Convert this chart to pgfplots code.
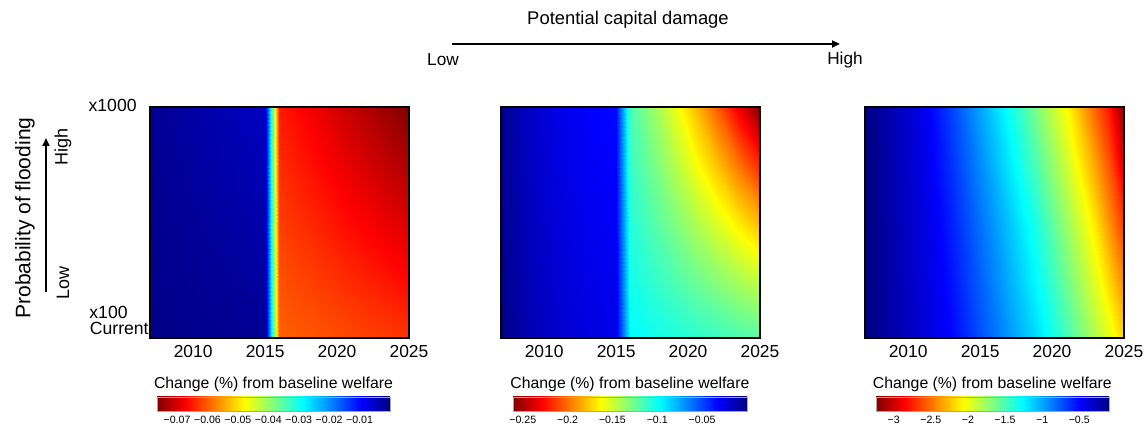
\documentclass[border=0pt]{standalone}
\usepackage{fontspec}
\setmainfont{Liberation Sans}
\usepackage{pgfplots}
\pgfplotsset{compat=1.18}
\usepackage{pgfplotstable}
\usetikzlibrary{arrows.meta}

% reversed jet: most negative change in dark red, no change in navy
\pgfplotsset{
  colormap={revjet}{rgb255(0cm)=(128,0,0) rgb255(1cm)=(255,0,0) rgb255(3cm)=(255,255,0)
                    rgb255(5cm)=(0,255,255) rgb255(7cm)=(0,0,255) rgb255(8cm)=(0,0,128)},
  heat/.style={
    scale only axis, width=129.5pt, height=115.5pt,
    xmin=2007, xmax=2025, ymin=0, ymax=10,
    xtick={2010,2015,2020,2025}, ytick=\empty,
    major tick length=0pt,
    axis line style={line width=0.6pt},
    tick label style={font=\fontsize{8.7}{10}\selectfont},
    /pgf/number format/1000 sep={},
    /pgf/number format/assume math mode=true,
    colormap name=revjet,
    axis on top,
    colorbar horizontal,
    colorbar style={
      scale only axis, width=116.5pt, height=7pt, anchor=north west,
      major tick length=0pt,
      xticklabel style={font=\fontsize{5.3}{6}\selectfont, yshift=0.8pt},
      title={Change (\%) from baseline welfare},
      title style={font=\fontsize{7.9}{9}\selectfont, yshift=-7pt},
      axis line style={draw=black!35, line width=0.3pt},
    },
  },
}

% welfare change (%) by year (x) and flood probability level (y, 0 = current/x100, 10 = x1000)
\pgfplotstableread{
x y v
2007 0 -0.0005
2009 0 -0.00075
2011 0 -0.001
2013 0 -0.00125
2015 0 -0.0015
2016 0 -0.0598
2017.5 0 -0.0604
2019 0 -0.0609
2020.5 0 -0.0615
2022 0 -0.0621
2023.5 0 -0.0626
2025 0 -0.0632
2007 2.5 -0.00075
2009 2.5 -0.00116
2011 2.5 -0.00156
2013 2.5 -0.00197
2015 2.5 -0.00238
2016 2.5 -0.0611
2017.5 2.5 -0.0620
2019 2.5 -0.0629
2020.5 2.5 -0.0638
2022 2.5 -0.0647
2023.5 2.5 -0.0656
2025 2.5 -0.0666
2007 5 -0.001
2009 5 -0.00156
2011 5 -0.00213
2013 5 -0.00269
2015 5 -0.00325
2016 5 -0.0625
2017.5 5 -0.0637
2019 5 -0.0649
2020.5 5 -0.0662
2022 5 -0.0674
2023.5 5 -0.0687
2025 5 -0.0699
2007 7.5 -0.00125
2009 7.5 -0.00197
2011 7.5 -0.00269
2013 7.5 -0.00341
2015 7.5 -0.00413
2016 7.5 -0.0638
2017.5 7.5 -0.0654
2019 7.5 -0.0669
2020.5 7.5 -0.0685
2022 7.5 -0.0701
2023.5 7.5 -0.0717
2025 7.5 -0.0733
2007 10 -0.0015
2009 10 -0.00238
2011 10 -0.00325
2013 10 -0.00413
2015 10 -0.005
2016 10 -0.0651
2017.5 10 -0.0670
2019 10 -0.0689
2020.5 10 -0.0709
2022 10 -0.0728
2023.5 10 -0.0747
2025 10 -0.0766
}\lowdamage

\pgfplotstableread{
x y v
2007 0 -0.002
2009 0 -0.0133
2011 0 -0.020
2013 0 -0.0245
2015 0 -0.027
2016 0 -0.098
2017.5 0 -0.1018
2019 0 -0.1057
2020.5 0 -0.1095
2022 0 -0.1133
2023.5 0 -0.1172
2025 0 -0.121
2007 2.5 -0.0028
2009 2.5 -0.0146
2011 2.5 -0.0217
2013 2.5 -0.0264
2015 2.5 -0.029
2016 2.5 -0.1028
2017.5 2.5 -0.1102
2019 2.5 -0.1177
2020.5 2.5 -0.1254
2022 2.5 -0.1331
2023.5 2.5 -0.1411
2025 2.5 -0.1491
2007 5 -0.0035
2009 5 -0.0159
2011 5 -0.0233
2013 5 -0.0283
2015 5 -0.031
2016 5 -0.1075
2017.5 5 -0.1186
2019 5 -0.1302
2020.5 5 -0.1424
2022 5 -0.1550
2023.5 5 -0.1681
2025 5 -0.1818
2007 7.5 -0.0043
2009 7.5 -0.0172
2011 7.5 -0.0250
2013 7.5 -0.0301
2015 7.5 -0.033
2016 7.5 -0.1123
2017.5 7.5 -0.1272
2019 7.5 -0.1433
2020.5 7.5 -0.1605
2022 7.5 -0.1789
2023.5 7.5 -0.1984
2025 7.5 -0.2191
2007 10 -0.005
2009 10 -0.0185
2011 10 -0.0266
2013 10 -0.032
2015 10 -0.035
2016 10 -0.117
2017.5 10 -0.1359
2019 10 -0.1568
2020.5 10 -0.1798
2022 10 -0.2048
2023.5 10 -0.2319
2025 10 -0.261
}\middamage

\pgfplotstableread{
x y v
2007 0 -0.10
2009 0 -0.23
2011 0 -0.36
2013 0 -0.50
2015 0 -0.73
2017 0 -0.96
2019 0 -1.19
2021 0 -1.48
2023 0 -1.82
2024 0 -1.99
2025 0 -2.20
2007 2.5 -0.10
2009 2.5 -0.24
2011 2.5 -0.375
2013 2.5 -0.54
2015 2.5 -0.785
2017 2.5 -1.03
2019 2.5 -1.29
2021 2.5 -1.615
2023 2.5 -1.98
2024 2.5 -2.205
2025 2.5 -2.445
2007 5 -0.10
2009 5 -0.25
2011 5 -0.39
2013 5 -0.58
2015 5 -0.84
2017 5 -1.10
2019 5 -1.39
2021 5 -1.75
2023 5 -2.14
2024 5 -2.42
2025 5 -2.69
2007 7.5 -0.10
2009 7.5 -0.26
2011 7.5 -0.41
2013 7.5 -0.635
2015 7.5 -0.92
2017 7.5 -1.21
2019 7.5 -1.54
2021 7.5 -1.905
2023 7.5 -2.345
2024 7.5 -2.61
2025 7.5 -2.965
2007 10 -0.10
2009 10 -0.27
2011 10 -0.43
2013 10 -0.69
2015 10 -1.00
2017 10 -1.32
2019 10 -1.69
2021 10 -2.06
2023 10 -2.55
2024 10 -2.80
2025 10 -3.24
}\highdamage

\begin{document}
\begin{tikzpicture}
\useasboundingbox (0,0) rectangle (574pt,215.5pt);

% low potential damage
\begin{axis}[heat, at={(75pt,46.5pt)}, anchor=south west,
  point meta min=-0.0766, point meta max=0,
  colorbar style={at={(0.027,-0.255)},
    xtick={-0.07,-0.06,-0.05,-0.04,-0.03,-0.02,-0.01},
    xticklabels={\mbox{−0.07},\mbox{−0.06},\mbox{−0.05},\mbox{−0.04},\mbox{−0.03},\mbox{−0.02},\mbox{−0.01}}}]
\addplot[surf, shader=interp, mesh/cols=12, point meta=\thisrow{v}] table[x=x, y=y] {\lowdamage};
\end{axis}

% medium potential damage
\begin{axis}[heat, at={(250.5pt,46.5pt)}, anchor=south west,
  point meta min=-0.261, point meta max=0,
  colorbar style={at={(0.046,-0.255)}, width=117pt,
    xtick={-0.25,-0.2,-0.15,-0.1,-0.05},
    xticklabels={\mbox{−0.25},\mbox{−0.2},\mbox{−0.15},\mbox{−0.1},\mbox{−0.05}}}]
\addplot[surf, shader=interp, mesh/cols=12, point meta=\thisrow{v}] table[x=x, y=y] {\middamage};
\end{axis}

% high potential damage
\begin{axis}[heat, at={(432.5pt,46.5pt)}, anchor=south west,
  point meta min=-3.24, point meta max=-0.1,
  colorbar style={at={(0.042,-0.255)},
    xtick={-3,-2.5,-2,-1.5,-1,-0.5},
    xticklabels={\mbox{−3},\mbox{−2.5},\mbox{−2},\mbox{−1.5},\mbox{−1},\mbox{−0.5}}}]
\addplot[surf, shader=interp, mesh/cols=11, point meta=\thisrow{v}] table[x=x, y=y] {\highdamage};
\end{axis}

% damage direction
\node[font=\fontsize{9.2}{11}\selectfont] at (314pt,205.5pt) {Potential capital damage};
\draw[line width=1pt, -{Triangle[length=4pt,width=3.5pt]}] (226pt,193.5pt) -- (420pt,193.5pt);
\node[font=\fontsize{8.6}{10}\selectfont] at (221.5pt,185.5pt) {Low};
\node[font=\fontsize{8.6}{10}\selectfont] at (422.5pt,185.5pt) {High};

% flood probability direction
\node[font=\fontsize{10.5}{12}\selectfont, rotate=90] at (12.5pt,106.5pt) {Probability of flooding};
\draw[line width=1pt, -{Triangle[length=4pt,width=3.5pt]}] (23pt,69.5pt) -- (23pt,146.5pt);
\node[font=\fontsize{9}{10}\selectfont, rotate=90] at (31.5pt,142pt) {High};
\node[font=\fontsize{9}{10}\selectfont, rotate=90] at (31.5pt,74pt) {Low};

% probability levels
\node[font=\fontsize{8.8}{10}\selectfont, anchor=east, inner sep=0pt] at (68.5pt,163pt) {x1000};
\node[font=\fontsize{8.8}{10}\selectfont, anchor=east, inner sep=0pt] at (64pt,59.5pt) {x100};
\node[font=\fontsize{8.8}{10}\selectfont, anchor=east, inner sep=0pt] at (74.5pt,51.5pt) {Current};
\end{tikzpicture}
\end{document}
